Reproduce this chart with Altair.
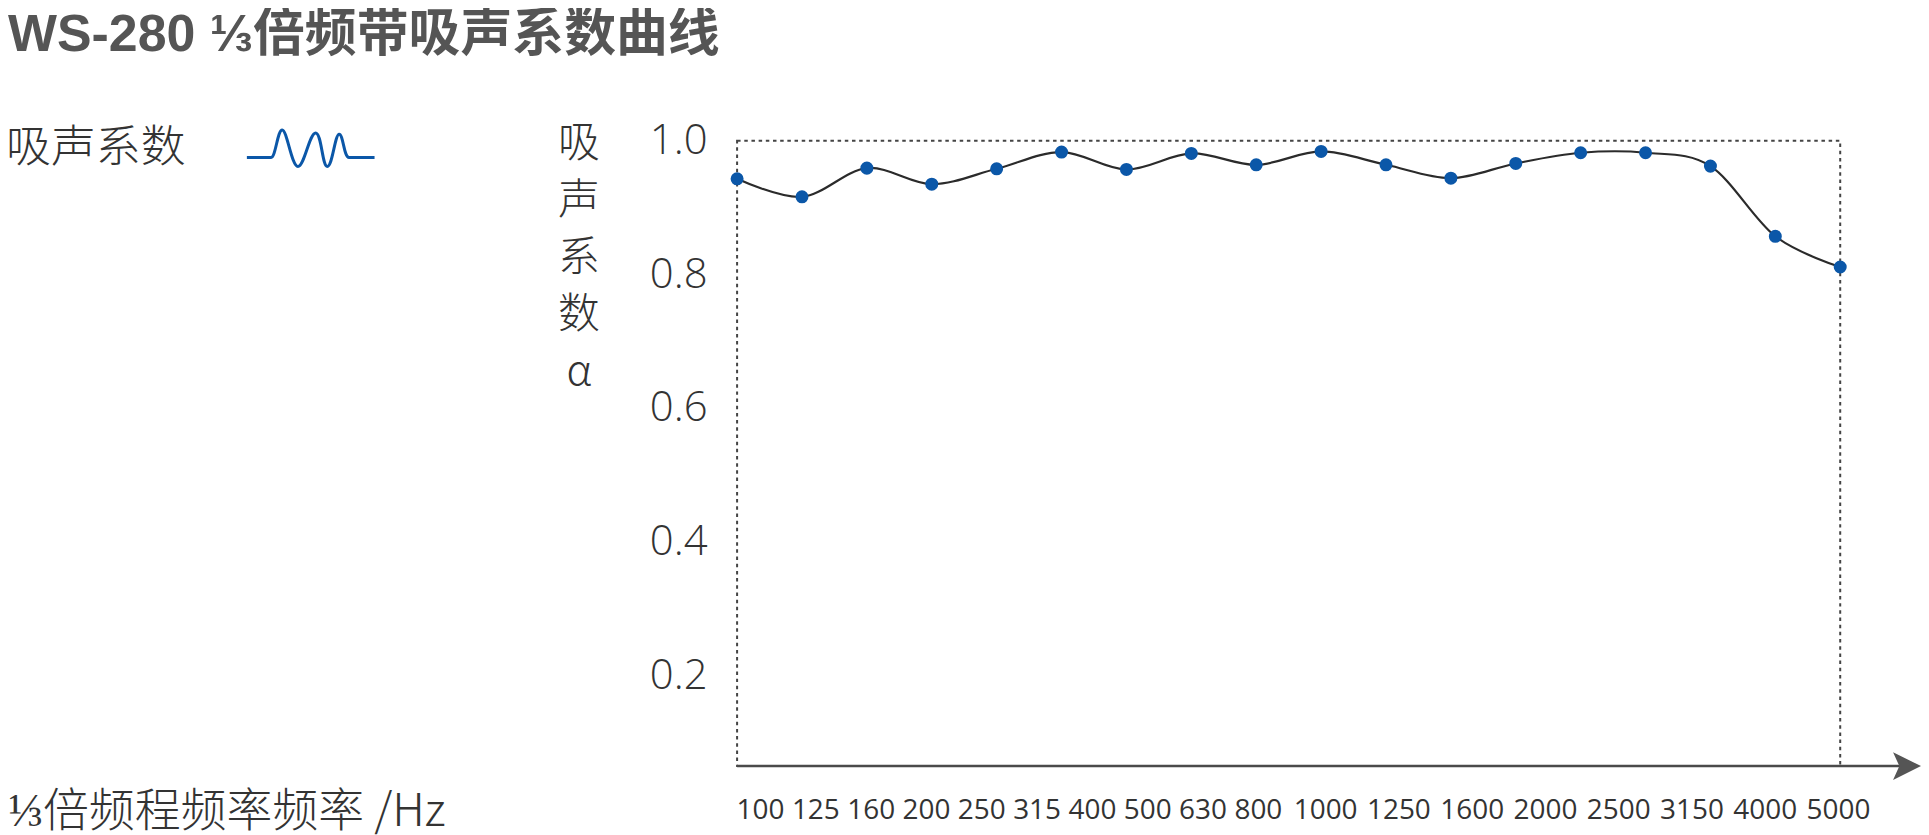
import altair as alt
import pandas as pd

# ---- data ----
freqs = ["100", "125", "160", "200", "250", "315", "400", "500", "630", "800",
         "1000", "1250", "1600", "2000", "2500", "3150", "4000", "5000"]
alpha = [0.943, 0.916, 0.959, 0.935, 0.958, 0.983, 0.957, 0.981, 0.964, 0.984,
         0.964, 0.944, 0.966, 0.982, 0.982, 0.962, 0.857, 0.811]
y_ticks = [0.2, 0.4, 0.6, 0.8, 1.0]
series_name = "吸声系数"
title_text = "WS-280 ⅓倍频带吸声系数曲线"
x_title = "⅓倍频程频率频率 /Hz"
y_title = ["吸", "声", "系", "数", "α"]

df = pd.DataFrame({"freq": freqs, "alpha": alpha, "series": series_name})

W, H = 1106, 627
CJK = "Noto Sans CJK SC"
BLUE = "#0b57a8"
LINE = "#2b2b2b"
AXIS = "#4a4a4a"

# label offsets along the axis (labels are set as a text row, not exactly under points)
lab_list = "[" + ",".join("'%s'" % f for f in freqs) + "]"
idx = "indexof(%s, datum.value)" % lab_list
label_offset_expr = "(%s <= 9) ? (23 - 9.6 * %s) : (-61 + 8.4 * (%s - 10))" % (idx, idx, idx)

x_enc = alt.X(
    "freq:N",
    sort=freqs,
    scale=alt.Scale(type="point", padding=0),
    axis=alt.Axis(
        title=x_title,
        titleX=-731, titleY=46, titleAlign="left", titleBaseline="middle",
        titleFont=CJK, titleFontSize=46, titleFontWeight=300, titleColor="#333",
        labelFont="Open Sans", labelFontSize=28, labelColor="#333",
        labelPadding=31, labelAngle=0,
        labelOverlap=False, labelFlush=False, labelBound=False,
        labelOffset=alt.ExprRef(label_offset_expr),
        ticks=False, domain=False, grid=False,
    ),
)

y_enc = alt.Y(
    "alpha:Q",
    scale=alt.Scale(domain=[0.064, 1.0], nice=False, zero=False),
    axis=alt.Axis(
        values=y_ticks, format=".1f",
        title=y_title, titleAngle=0, titleAlign="center", titleBaseline="top",
        titleX=-159, titleY=-17, titleFont=CJK, titleFontSize=42,
        titleFontWeight=300, titleLineHeight=57, titleColor="#333",
        labelFont="Open Sans", labelFontSize=42, labelFontWeight=300,
        labelColor="#333", labelPadding=30,
        ticks=False, domain=False, grid=False,
    ),
)

base = alt.Chart(df)

line = base.mark_line(color=LINE, strokeWidth=2.2, interpolate="cardinal").encode(x=x_enc, y=y_enc)
points = base.mark_circle(color=BLUE, size=170, opacity=1).encode(x=x_enc, y=y_enc)

wave = ("M-1,0.145 L-0.62,0.145 C-0.55,0.145 -0.52,-0.286 -0.446,-0.286 "
        "C-0.37,-0.286 -0.3,0.286 -0.2,0.286 C-0.1,0.286 -0.02,-0.24 0.077,-0.24 "
        "C0.17,-0.24 0.18,0.286 0.26,0.286 C0.34,0.286 0.38,-0.22 0.446,-0.22 "
        "C0.51,-0.22 0.52,0.145 0.6,0.145 L1,0.145")

legend_layer = base.transform_filter("false").mark_line().encode(
    x=x_enc, y=y_enc,
    color=alt.Color(
        "series:N",
        scale=alt.Scale(domain=[series_name], range=[BLUE]),
        legend=alt.Legend(
            title=None, orient="none", legendX=-493, legendY=-58, padding=0,
            symbolType=wave, symbolSize=128 * 128, symbolStrokeWidth=3,
            labelFont=CJK, labelFontSize=45, labelFontWeight=300, labelColor="#333",
            labelAlign="right", labelOffset=alt.ExprRef("-191"), labelLimit=400,
        ),
    ),
)

one = pd.DataFrame({"k": [0]})
axis_rule = alt.Chart(one).mark_rule(color=AXIS, strokeWidth=2.5).encode(
    x=alt.value(0), x2=alt.value(W + 60), y=alt.value(H)
)
arrow = alt.Chart(one).mark_point(
    shape="M-1,-1 L1,0 L-1,1 L-0.55,0 Z", filled=True, color="#555", size=784, opacity=1
).encode(x=alt.value(W + 67), y=alt.value(H))

chart = alt.layer(legend_layer, line, points, axis_rule, arrow).properties(
    width=W, height=H, padding=0,
    title=alt.Title(
        title_text, anchor="start", frame="group", dx=-731, offset=21,
        fontSize=52, fontWeight="bold", color="#555",
        font="Liberation Sans, Noto Sans CJK SC",
    ),
).configure_view(
    stroke="#444", strokeDash=[3.5, 3.7], strokeWidth=2
)

chart.save("out.html", embed_options={"renderer": "svg", "actions": False})
